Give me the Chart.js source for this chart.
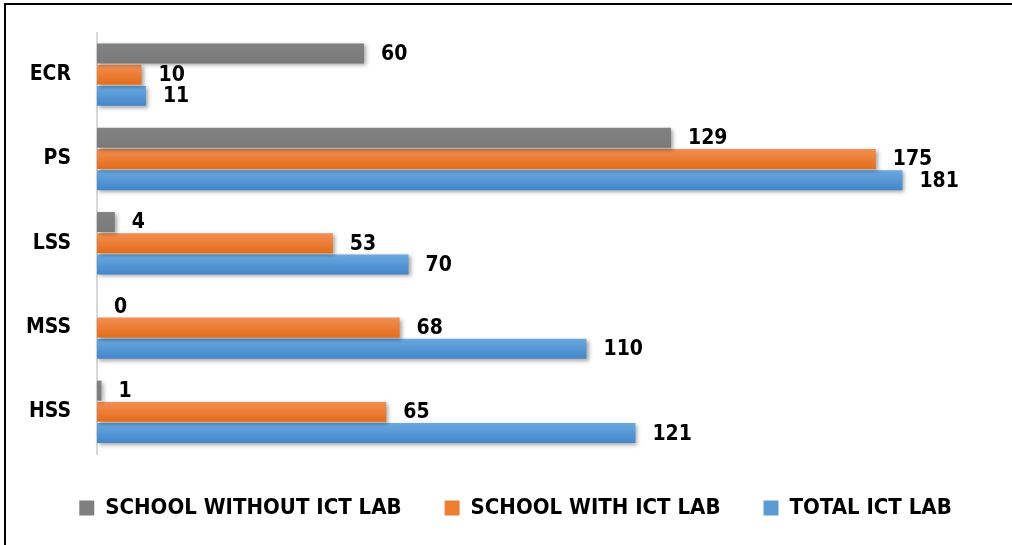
<!DOCTYPE html>
<html>
<head>
<meta charset="utf-8">
<script src="https://cdn.jsdelivr.net/npm/chart.js@4.4.1/dist/chart.umd.min.js"></script>
<style>
  html, body { margin: 0; padding: 0; background: #fff; overflow: hidden; }
  #wrap { width: 1012px; height: 545px; }
</style>
</head>
<body>
<div id="wrap"><canvas id="bar-chart" width="1012" height="545"></canvas></div>
<script>
const categories = ["ECR", "PS", "LSS", "MSS", "HSS"];
const withoutLab = [60, 129, 4, 0, 1];
const withLab = [10, 175, 53, 68, 65];
const totalLab = [11, 181, 70, 110, 121];

const seriesNames = ["SCHOOL WITHOUT ICT LAB", "SCHOOL WITH ICT LAB", "TOTAL ICT LAB"];
const seriesColors = ["#7f7f7f", "#ed7d31", "#5b9bd5"];
// top / bottom shades for the glossy look
const seriesShades = [
    ["#828282", "#7a7a7a"],
    ["#f28f52", "#e46c1a"],
    ["#6aa9e1", "#4386ca"]
];

const FONT = '"DejaVu Sans Condensed", "DejaVu Sans", sans-serif';

// frame: only the top and left edge show in the picture
const framePlugin = {
    id: 'frame',
    beforeDraw(chart) {
        const ctx = chart.ctx;
        ctx.save();
        ctx.fillStyle = '#fff';
        ctx.fillRect(0, 0, chart.width, chart.height);
        ctx.strokeStyle = '#000';
        ctx.lineWidth = 2;
        ctx.beginPath();
        ctx.moveTo(5, chart.height);
        ctx.lineTo(5, 4);
        ctx.lineTo(chart.width, 4);
        ctx.stroke();
        ctx.restore();
    }
};

// legend sits a little right of centre in the original
const legendShift = {
    id: 'legendShift',
    afterLayout(chart) {
        chart.legend.left += 22;
        chart.legend.right += 22;
    }
};

// draw each bar with its own vertical gradient and a soft shadow
const glossPlugin = {
    id: 'gloss',
    beforeDatasetDraw(chart, args) {
        const ctx = chart.ctx;
        const shades = seriesShades[args.index];
        ctx.save();
        ctx.shadowColor = 'rgba(0,0,0,0.35)';
        ctx.shadowBlur = 4;
        ctx.shadowOffsetX = 2;
        ctx.shadowOffsetY = 2;
        args.meta.data.forEach(bar => {
            const top = bar.y - bar.height / 2;
            const g = ctx.createLinearGradient(0, top, 0, top + bar.height);
            g.addColorStop(0, shades[0]);
            g.addColorStop(1, shades[1]);
            const saved = bar.options;
            bar.options = Object.assign({}, saved, { backgroundColor: g });
            bar.draw(ctx, chart.chartArea);
            bar.options = saved;
        });
        ctx.restore();
        return false;
    }
};

const valueLabels = {
    id: 'valueLabels',
    afterDatasetsDraw(chart) {
        const ctx = chart.ctx;
        ctx.save();
        ctx.font = 'bold 21px ' + FONT;
        ctx.fillStyle = '#000';
        ctx.textAlign = 'left';
        ctx.textBaseline = 'middle';
        chart.data.datasets.forEach((ds, i) => {
            chart.getDatasetMeta(i).data.forEach((bar, j) => {
                ctx.fillText(String(ds.data[j]), bar.x + 17, bar.y + 1);
            });
        });
        ctx.restore();
    }
};

const ctx = document.getElementById('bar-chart').getContext('2d');
new Chart(ctx, {
    type: 'bar',
    data: {
        labels: categories,
        datasets: [
            { label: seriesNames[0], data: withoutLab, backgroundColor: seriesColors[0] },
            { label: seriesNames[1], data: withLab, backgroundColor: seriesColors[1] },
            { label: seriesNames[2], data: totalLab, backgroundColor: seriesColors[2] }
        ]
    },
    options: {
        indexAxis: 'y',
        responsive: false,
        animation: false,
        devicePixelRatio: 1,
        layout: { padding: { left: 0, top: 32.5, right: 25, bottom: 16 } },
        datasets: {
            bar: { categoryPercentage: 0.755, barPercentage: 0.94, borderWidth: 0 }
        },
        scales: {
            x: {
                display: false,
                min: 0,
                max: 200
            },
            y: {
                afterFit(scale) {
                    scale.width = 97;
                    scale.paddingTop = 0;
                    scale.paddingBottom = 0;
                },
                grid: { display: false, drawTicks: false },
                border: { display: true, color: '#d9d9d9', width: 2 },
                ticks: {
                    color: '#000',
                    padding: 26,
                    font: { family: FONT, size: 21, weight: 'bold' }
                }
            }
        },
        plugins: {
            legend: {
                position: 'bottom',
                labels: {
                    color: '#000',
                    boxWidth: 15,
                    boxHeight: 15,
                    padding: 43,
                    font: { family: FONT, size: 22, weight: 'bold' },
                    generateLabels(chart) {
                        return chart.data.datasets.map((ds, i) => ({
                            text: ds.label,
                            fillStyle: seriesColors[i],
                            strokeStyle: seriesColors[i],
                            lineWidth: 0,
                            fontColor: '#000',
                            datasetIndex: i
                        }));
                    }
                }
            },
            tooltip: { enabled: false }
        }
    },
    plugins: [framePlugin, legendShift, glossPlugin, valueLabels]
});
</script>
</body>
</html>
